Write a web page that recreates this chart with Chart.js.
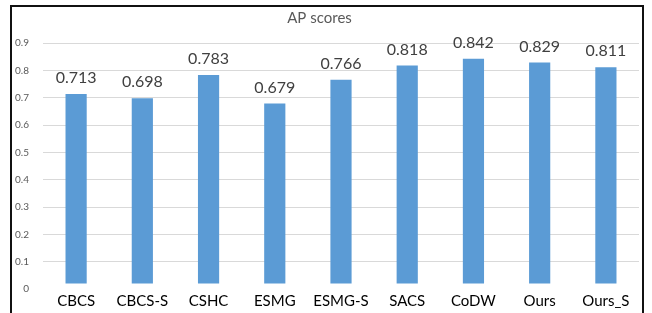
<!DOCTYPE html>
<html>
<head>
<meta charset="utf-8">
<script src="https://cdn.jsdelivr.net/npm/chart.js@4.4.1/dist/chart.umd.min.js"></script>
<style>
  html, body { margin: 0; padding: 0; background: #fff; overflow: hidden; }
  #wrap { position: relative; width: 652px; height: 313px; }
  #frame { position: absolute; left: 10px; top: 5px; width: 634px; height: 320px; border: 2px solid #111; box-sizing: border-box; pointer-events: none; }
</style>
</head>
<body>
<div id="wrap">
  <canvas id="chart" width="652" height="313"></canvas>
  <div id="frame"></div>
</div>
<script>
const methods = ['CBCS', 'CBCS-S', 'CSHC', 'ESMG', 'ESMG-S', 'SACS', 'CoDW', 'Ours', 'Ours_S'];
const apScores = [0.713, 0.698, 0.783, 0.679, 0.766, 0.818, 0.842, 0.829, 0.811];
const yTickLabels = ['0', '0.1', '0.2', '0.3', '0.4', '0.5', '0.6', '0.7', '0.8', '0.9'];

// value labels above the bars
const valueLabels = {
    id: 'valueLabels',
    afterDatasetsDraw(chart) {
        const ctx = chart.ctx;
        const meta = chart.getDatasetMeta(0);
        ctx.save();
        ctx.font = '16px Lato';
        ctx.fillStyle = '#404040';
        ctx.textAlign = 'center';
        ctx.textBaseline = 'bottom';
        meta.data.forEach((bar, i) => {
            ctx.fillText(apScores[i].toFixed(3), bar.x, bar.y - 8);
        });
        ctx.restore();
    }
};

const data = {
    labels: methods,
    datasets: [{
        data: apScores,
        base: 0.02,
        backgroundColor: '#5b9bd5',
        borderWidth: 0,
        barPercentage: 0.32,
        categoryPercentage: 1
    }]
};

const config = {
    type: 'bar',
    data: data,
    options: {
        responsive: false,
        animation: false,
        layout: {
            padding: { left: 0, right: 13, top: 0, bottom: 0 }
        },
        plugins: {
            legend: { display: false },
            tooltip: { enabled: false },
            title: {
                display: true,
                text: 'AP scores',
                color: '#595959',
                font: { family: 'Lato', size: 15, weight: 'normal' },
                padding: { top: 9, bottom: 16 }
            }
        },
        scales: {
            x: {
                grid: { display: false, drawTicks: false },
                border: { display: false },
                ticks: {
                    color: '#000',
                    font: { family: 'Lato', size: 15 },
                    padding: 3,
                    maxRotation: 0,
                    autoSkip: false
                },
                afterFit: (scale) => { scale.height = 24; }
            },
            y: {
                min: 0,
                max: 0.9,
                border: { display: false },
                grid: {
                    drawTicks: false,
                    color: (c) => c.tick && c.tick.value === 0 ? 'rgba(0,0,0,0)' : '#d9d9d9'
                },
                ticks: {
                    stepSize: 0.1,
                    color: '#595959',
                    font: { family: 'Lato', size: 10 },
                    padding: 14,
                    callback: (v, i) => yTickLabels[i]
                },
                afterFit: (scale) => { scale.width = 43; }
            }
        }
    },
    plugins: [valueLabels]
};

const bar_chart = new Chart(document.getElementById('chart'), config);
</script>
</body>
</html>
